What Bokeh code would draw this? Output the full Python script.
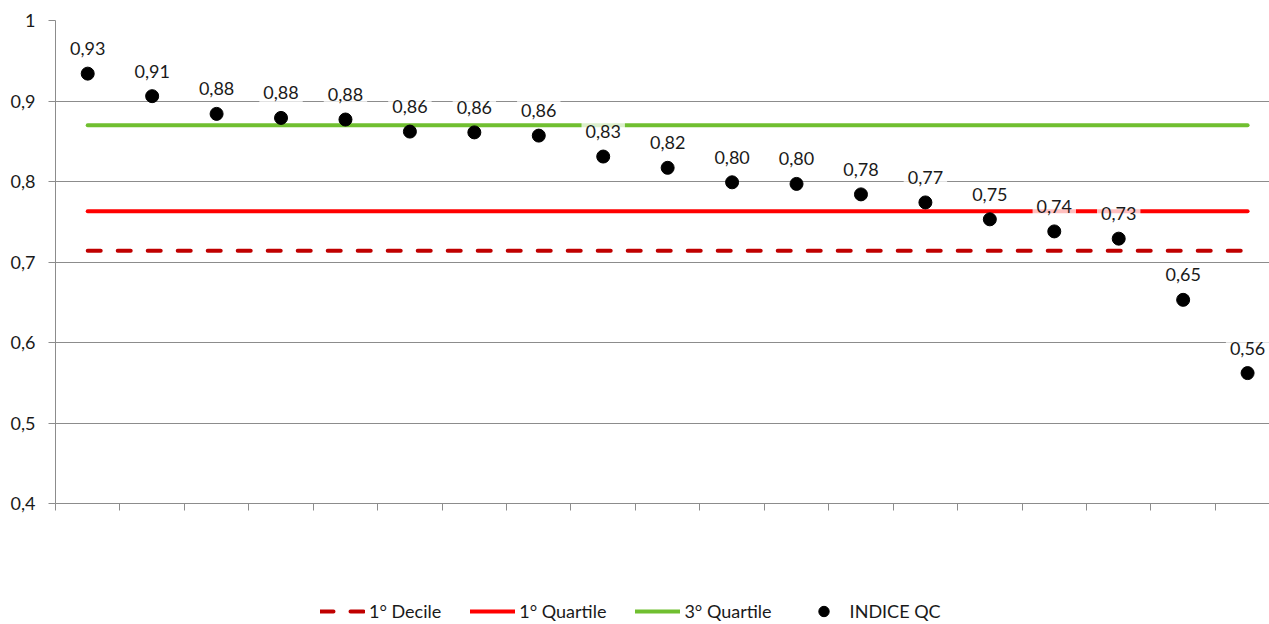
from bokeh.plotting import figure
from bokeh.layouts import column
from bokeh.models import (ColumnDataSource, Label, FixedTicker, CustomJSTickFormatter,
                          Legend, LegendItem, Range1d)
from bokeh.embed import file_html
from bokeh.resources import INLINE

# ---- data ----
categories = list(range(1, 20))
indice_qc = [0.934, 0.906, 0.884, 0.879, 0.877, 0.862, 0.861, 0.857, 0.831, 0.817,
             0.799, 0.797, 0.784, 0.774, 0.753, 0.738, 0.729, 0.653, 0.562]
decile_1 = 0.714
quartile_1 = 0.763
quartile_3 = 0.870
y_ticks = [0.4, 0.5, 0.6, 0.7, 0.8, 0.9, 1.0]
legend_labels = ["1° Decile", "1° Quartile", "3° Quartile", "INDICE QC"]

FONT = "Lato"
GRID = "#8c8c8c"
TXT = "#1a1a1a"
C_DEC, C_Q1, C_Q3 = "#C00000", "#FF0000", "#70BF30"

xs = list(range(len(categories)))
labels = [f"{v:.2f}".replace(".", ",") for v in indice_qc]
src = ColumnDataSource(dict(x=xs, y=indice_qc, lab=labels))

p = figure(width=1269, height=521, output_backend="svg", toolbar_location=None,
           x_range=Range1d(-0.5, 18.34), y_range=Range1d(0.4, 1.0),
           min_border_left=55, min_border_top=20, min_border_right=0, min_border_bottom=18)
p.outline_line_color = None
p.background_fill_color = "white"

line_x = [xs[0], xs[-1]]
p.line(line_x, [decile_1, decile_1], line_color=C_DEC, line_width=4,
       line_dash="13 17", line_cap="round")
p.line(line_x, [quartile_1, quartile_1], line_color=C_Q1, line_width=4, line_cap="round")
p.line(line_x, [quartile_3, quartile_3], line_color=C_Q3, line_width=4, line_cap="round")
p.scatter("x", "y", source=src, size=13, color="black")

for xv, yv, t in zip(xs, indice_qc, labels):
    p.add_layout(Label(x=xv, y=yv, text=t, y_offset=25, text_align="center",
                       text_baseline="middle", text_font=FONT, text_font_size="18px",
                       text_color=TXT, background_fill_color="white",
                       background_fill_alpha=0.75, padding=4))

# axes
p.xgrid.visible = False
p.ygrid.grid_line_color = GRID
p.ygrid.grid_line_width = 1
p.ygrid.ticker = FixedTicker(ticks=y_ticks)

ya = p.yaxis[0]
ya.ticker = FixedTicker(ticks=y_ticks)
ya.formatter = CustomJSTickFormatter(code="return (Math.round(tick*10)/10).toString().replace('.', ',');")
ya.axis_line_color = GRID
ya.major_tick_line_color = GRID
ya.major_tick_in = 0
ya.major_tick_out = 7
ya.minor_tick_line_color = None
ya.major_label_standoff = 13
ya.major_label_text_font = FONT
ya.major_label_text_font_size = "18px"
ya.major_label_text_color = TXT

xa = p.xaxis[0]
xa.ticker = FixedTicker(ticks=[i - 0.5 for i in range(len(categories) + 1)])
xa.formatter = CustomJSTickFormatter(code="return '';")
xa.axis_line_color = GRID
xa.major_tick_line_color = GRID
xa.major_tick_in = 0
xa.major_tick_out = 7
xa.minor_tick_line_color = None
xa.major_label_text_font_size = "10px"
xa.major_label_standoff = 0

# legend strip below the chart (its renderers lie outside its visible range)
p2 = figure(width=1269, height=103, output_backend="svg", toolbar_location=None,
            x_axis_location=None, y_axis_location=None,
            x_range=Range1d(100, 101), y_range=Range1d(0.4, 1.0),
            min_border_left=0, min_border_right=0, min_border_top=0, min_border_bottom=0)
p2.outline_line_color = None
p2.xgrid.visible = False
p2.ygrid.visible = False
l_dec = p2.line(line_x, [decile_1, decile_1], line_color=C_DEC, line_width=4,
                line_dash="13 17", line_cap="round")
l_q1 = p2.line(line_x, [quartile_1, quartile_1], line_color=C_Q1, line_width=4, line_cap="round")
l_q3 = p2.line(line_x, [quartile_3, quartile_3], line_color=C_Q3, line_width=4, line_cap="round")
l_pts = p2.scatter("x", "y", source=src, size=13, color="black")

legend = Legend(items=[LegendItem(label=legend_labels[0], renderers=[l_dec]),
                       LegendItem(label=legend_labels[1], renderers=[l_q1]),
                       LegendItem(label=legend_labels[2], renderers=[l_q3]),
                       LegendItem(label=legend_labels[3], renderers=[l_pts])],
                orientation="horizontal", location=(265, 0), border_line_color=None,
                background_fill_alpha=0, padding=0, margin=0, spacing=29,
                glyph_width=45, glyph_height=26, label_standoff=4, label_height=18,
                label_text_font=FONT, label_text_font_size="18px", label_text_color=TXT)
p2.add_layout(legend, "center")

layout = column(p, p2, spacing=0)
open("out.html", "w").write(file_html(layout, INLINE))
